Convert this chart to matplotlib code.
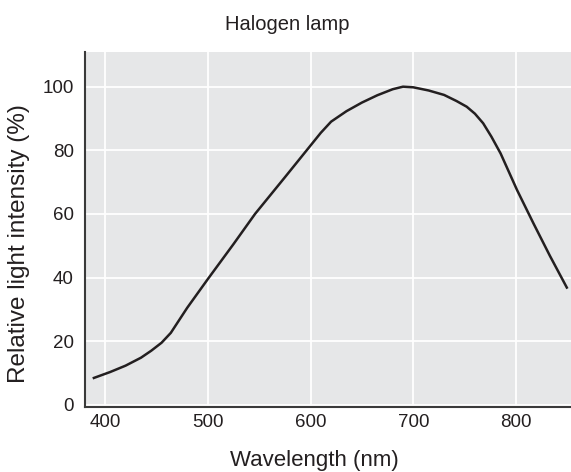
import matplotlib
matplotlib.use('Agg')
import matplotlib.pyplot as plt

# Values
wavelength = [388, 405, 420, 435, 445, 455, 464, 480, 500, 525, 546, 575, 600, 610, 620,
              635, 650, 665, 680, 690, 700, 715, 730, 742, 752, 760, 768, 776, 785,
              801, 817, 833, 850]
intensity = [8.3, 10.3, 12.3, 14.8, 17.0, 19.5, 22.6, 30.5, 39.5, 50.5, 60.0, 71.5, 81.5,
             85.5, 89.0, 92.3, 95.0, 97.3, 99.2, 100.0, 99.8, 98.8, 97.4, 95.5, 93.7,
             91.5, 88.5, 84.3, 79.0, 67.5, 57.0, 46.8, 36.5]

x_ticks = [400, 500, 600, 700, 800]
y_ticks = [0, 20, 40, 60, 80, 100]

plt.rcParams['font.family'] = ['Liberation Sans', 'DejaVu Sans']
ink = '#231f20'
W, H = 571, 472

fig = plt.figure(figsize=(W / 100, H / 100), dpi=100, facecolor='white')
ax = fig.add_axes([85 / W, 65 / H, 1 - 85 / W, 355 / H])
ax.set_facecolor('#e6e7e8')

ax.plot(wavelength, intensity, color=ink, linewidth=1.8, solid_capstyle='butt')

ax.set_xlim(380.5, 853.5)
ax.set_ylim(-0.7, 110.9)
ax.set_xticks(x_ticks)
ax.set_yticks(y_ticks)
ax.grid(True, color='white', linewidth=1.3)
ax.set_axisbelow(True)

for side in ['top', 'right']:
    ax.spines[side].set_visible(False)
for side in ['left', 'bottom']:
    ax.spines[side].set_color('#3a3a3a')
    ax.spines[side].set_linewidth(1.5)

ax.tick_params(axis='x', length=0, labelsize=13.5, colors=ink, pad=5)
ax.tick_params(axis='y', length=0, labelsize=13.5, colors=ink, pad=8)

# title and axis labels placed in figure pixels, as in the reference
fig.text(287 / W, (H - 30.5) / H, 'Halogen lamp', fontsize=14.5, color=ink,
         ha='center', va='baseline')
fig.text(314 / W, 6 / H, 'Wavelength (nm)', fontsize=16, color=ink,
         ha='center', va='baseline')
fig.text(8 / W, (H - 243.5) / H, 'Relative light intensity (%)', fontsize=17.5, color=ink,
         ha='left', va='center', rotation=90)

plt.savefig('out.png', dpi=100, facecolor=fig.get_facecolor())
plt.close(fig)
